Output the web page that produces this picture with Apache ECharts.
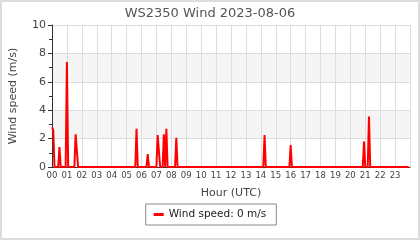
<!DOCTYPE html>
<html>
<head>
<meta charset="utf-8">
<script src="https://cdn.jsdelivr.net/npm/echarts@6/dist/echarts.min.js"></script>
<style>
html,body{margin:0;padding:0;background:#fff;}
#c{width:420px;height:240px;}
</style>
</head>
<body>
<div id="c"></div>
<script>
var titleText = 'WS2350 Wind 2023-08-06';
var seriesName = 'Wind speed: 0 m/s';
var times = ['00:00','00:05','00:10','00:25','00:30','00:35','00:55','01:00','01:05','01:30','01:35','01:40','01:45',
  '05:35','05:40','05:45','06:20','06:25','06:30','07:00','07:05','07:10','07:15','07:25','07:30','07:35','07:40','07:45',
  '08:15','08:20','08:25','14:10','14:15','14:20','15:55','16:00','16:05','20:50','20:55','21:00','21:10','21:15','21:20','23:55'];
var speeds = [2.8,2.6,0,0,1.4,0,0,7.4,0,0,2.3,2.2,0,
  0,2.7,0,0,0.9,0,0,2.25,2.3,0,0,2.3,0,2.7,0,
  0,2.05,0,0,2.25,0,0,1.55,0,0,1.8,0,0,3.55,0,0];
var hourLabels = ['00','01','02','03','04','05','06','07','08','09','10','11','12','13','14','15','16','17','18','19','20','21','22','23'];

function toHours(t){var p=t.split(':');return +p[0]+(+p[1])/60;}
var data = times.map(function(t,i){return [toHours(t), speeds[i]];});

var chart = echarts.init(document.getElementById('c'), null, {renderer:'canvas'});
var font = 'DejaVu Sans';
chart.setOption({
  animation:false,
  backgroundColor:'#fff',
  textStyle:{fontFamily:font},
  graphic:[{type:'rect', shape:{x:1,y:1,width:418,height:238}, style:{fill:null, stroke:'#ddd', lineWidth:2}, silent:true}],
  title:{text:titleText, left:'center', top:2, textStyle:{fontFamily:font, fontSize:13, fontWeight:'normal', color:'#555'}},
  grid:{left:50, right:10, top:25, bottom:73},
  legend:{
    bottom:15, left:'center',
    data:[{name:seriesName, icon:'rect'}],
    itemWidth:10, itemHeight:3, itemGap:5,
    borderColor:'#888', borderWidth:1, padding:[5,10,5,8],
    textStyle:{fontFamily:font, fontSize:10.5, color:'#222'}
  },
  xAxis:{
    type:'value', min:0, max:24, interval:1,
    name:'Hour (UTC)', nameLocation:'middle', nameGap:21,
    nameTextStyle:{fontFamily:font, fontSize:11, color:'#444'},
    axisLine:{lineStyle:{color:'#333', width:1}},
    axisTick:{show:false},
    axisLabel:{fontFamily:font, fontSize:8.5, color:'#444', margin:4,
      formatter:function(v){return v<24 ? hourLabels[v] : '';}},
    splitLine:{show:true, lineStyle:{color:'#ddd', width:1}}
  },
  yAxis:{
    type:'value', min:0, max:10, interval:2,
    name:'Wind speed (m/s)', nameLocation:'middle', nameGap:33, nameRotate:90,
    nameTextStyle:{fontFamily:font, fontSize:11, color:'#444'},
    axisLine:{show:true, lineStyle:{color:'#333', width:1}},
    axisTick:{show:true, length:4, lineStyle:{color:'#333'}},
    minorTick:{show:true, splitNumber:2, length:3, lineStyle:{color:'#333'}},
    axisLabel:{fontFamily:font, fontSize:11, color:'#444', margin:6},
    splitLine:{show:true, lineStyle:{color:'#ddd', width:1}},
    splitArea:{show:true, areaStyle:{color:['#ffffff','#f5f5f5']}}
  },
  series:[{
    name:seriesName, type:'line', data:data, showSymbol:false, symbol:'none',
    lineStyle:{color:'#ff0000', width:2}, itemStyle:{color:'#ff0000'}
  }]
});
</script>
</body>
</html>
